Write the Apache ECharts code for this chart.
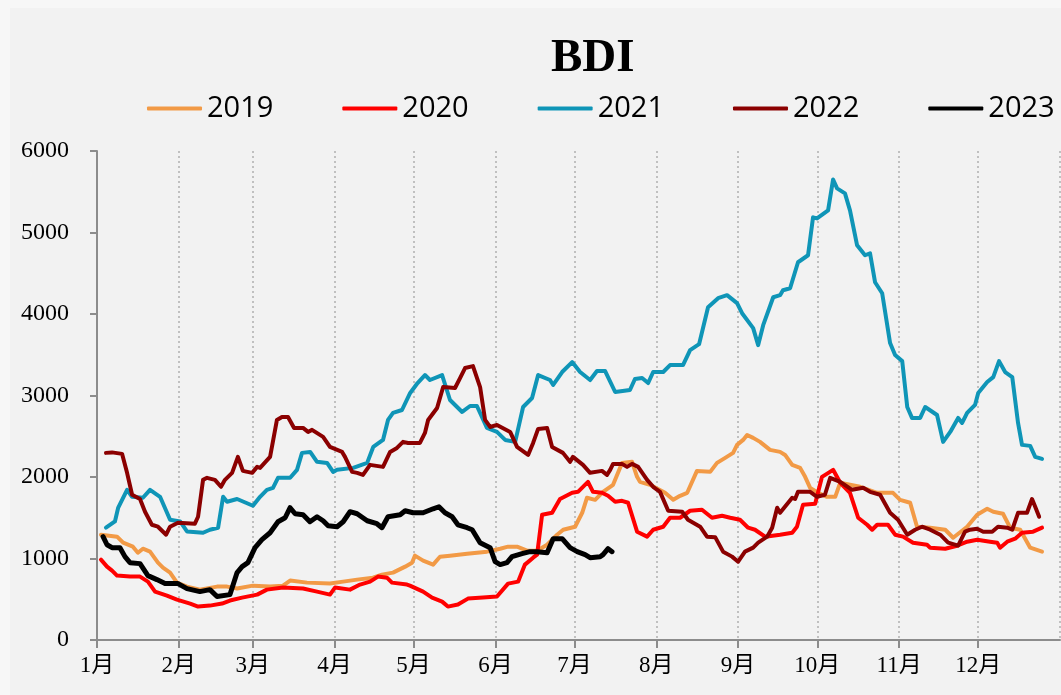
<!DOCTYPE html>
<html>
<head>
<meta charset="utf-8">
<script src="https://cdn.jsdelivr.net/npm/echarts@6/dist/echarts.min.js"></script>
<style>
  body { margin: 0; background: #f7f7f7; }
  #chart { position: absolute; left: 10px; top: 8px; width: 1051px; height: 687px; }
</style>
</head>
<body>
<div id="chart"></div>
<script>
// day of year (0 = 1月1日) and BDI value
var years = ['2019', '2020', '2021', '2022', '2023'];
var colors = ['#F29A46', '#FF0000', '#0F95B7', '#8B0000', '#000000'];
var yTicks = [0, 1000, 2000, 3000, 4000, 5000, 6000];

var days2019 = [1.5,7.6,9.9,13.6,15.5,17.4,20.1,23.1,25,27.7,30.3,34.1,39,45.5,49.3,53.1,59.1,65.6,70.5,73.2,79.6,88.3,93.3,98.6,104.6,108,112.2,116.8,119.4,120.5,123.6,127.4,130,133.8,140.3,147.8,152.8,155.8,159.2,163,166.8,170.6,174.4,176.7,181.2,183.9,185.7,188.8,191.8,195.6,199,202.8,204.7,205.8,209.6,215.3,218.4,221,223.7,227.4,232.4,235,238.1,241.1,242.6,244.9,246.4,248.7,251.3,255.1,258.9,260.8,263.5,266.5,268.4,270.3,273.3,276.7,279.8,281.7,285.4,289.2,295.7,301.7,304.4,308.2,310.8,315.8,321.5,324.5,329.8,333.6,337.4,339.7,343.4,346.1,349.9,353.7,358.2];
var bdi2019 = [1292,1268,1194,1145,1071,1120,1084,949,888,827,704,655,618,655,655,631,667,655,667,729,704,692,716,741,765,802,827,900,949,1035,974,925,1022,1035,1059,1084,1120,1145,1145,1096,1096,1169,1292,1353,1390,1561,1745,1720,1818,1904,2173,2186,2002,1941,1904,1806,1720,1769,1806,2075,2063,2173,2235,2296,2394,2455,2516,2480,2431,2333,2308,2271,2149,2112,2002,1867,1806,1757,1757,1929,1904,1880,1806,1806,1720,1684,1390,1378,1353,1255,1390,1537,1610,1574,1549,1378,1353,1133,1084];

var days2020 = [1.5,3.8,5.7,7.6,12.5,16.3,19.3,22,26.5,30.3,35.3,38.3,42.8,47.4,50.4,55,60.7,64.4,70.5,78.1,83.4,88.3,90.2,95.9,99.7,103.5,106.5,109.9,111.8,117.5,118.6,123.6,127,130.8,133,136.8,140.6,146.3,151.6,155.8,159.6,162.2,165.3,166.8,168.7,172.5,175.5,180.1,182.3,186.1,188,191.4,193.7,196.4,199,201.3,204.7,208.5,210.8,214.6,217.2,221,224.8,229.3,233.1,236.9,240,243.7,246.8,249.4,253.2,258.9,263.5,265.3,267.6,272.2,274.8,279,281.7,285.4,288.5,291.9,293.8,295.7,299.8,302.5,305.5,309.3,314.6,315.8,321.5,326,329.8,333.6,338.5,341.2,342.3,345,348,350.6,354.8,358.2];
var bdi2020 = [986,900,851,790,778,778,716,594,545,496,447,410,422,447,484,520,557,618,643,631,594,557,643,618,680,716,778,765,704,680,667,594,520,471,410,435,508,520,533,692,716,925,1010,1047,1537,1561,1730,1806,1818,1941,1818,1806,1769,1696,1708,1684,1329,1268,1353,1390,1500,1500,1586,1598,1500,1525,1500,1475,1378,1353,1268,1292,1316,1390,1659,1672,2002,2088,1929,1806,1500,1414,1353,1414,1414,1292,1268,1194,1169,1133,1120,1157,1206,1231,1206,1194,1133,1206,1243,1316,1329,1378];

var days2021 = [3.4,6.8,8,11.4,13.3,17.4,20.1,23.9,27.7,31.5,34.1,40.2,42.8,45.9,47.8,49.3,53.1,59.1,61.8,64.4,66.7,68.6,73.2,75.8,77.7,80.8,83.4,87.2,89.5,91,97.1,102.4,104.7,108.4,110.3,112.2,115.6,118.7,121.5,124.3,126.2,130.8,133.8,138.4,141.4,144,147.8,151.6,154.7,158.5,161.5,164.9,167.2,171.7,172.9,176.3,180.1,183.1,186.9,189.5,192.6,196.4,202,203.9,206.6,208.9,210.8,214.6,217.2,222.1,224.8,228.2,231.6,235.4,238.8,242.6,244.5,248.7,250.6,252.5,256.3,258.9,260,262.7,265.7,269.5,271.4,272.9,277.1,279,280.5,283.5,285.4,288.1,291.1,293,294.9,297.6,300.6,302.5,305.2,307.1,308.9,312,313.9,318.4,320.7,323.4,326.4,327.9,329.8,332.8,334,337.4,339.7,341.9,344.2,346.9,349.1,350.6,353.7,355.6,358.2];
var bdi2021 = [1378,1455,1620,1843,1757,1745,1843,1757,1475,1455,1332,1316,1353,1378,1757,1696,1730,1647,1757,1843,1867,1990,1990,2088,2296,2308,2186,2173,2063,2088,2112,2173,2369,2455,2700,2786,2822,3031,3153,3251,3190,3251,2945,2798,2871,2871,2602,2553,2455,2431,2859,2969,3251,3190,3129,3288,3410,3288,3190,3300,3300,3043,3067,3202,3214,3153,3288,3288,3373,3373,3557,3630,4084,4194,4231,4133,4010,3827,3618,3863,4206,4231,4292,4316,4635,4721,5186,5173,5271,5651,5541,5480,5271,4843,4721,4745,4390,4255,3643,3496,3422,2859,2725,2725,2859,2761,2431,2553,2725,2663,2786,2884,3031,3165,3226,3422,3288,3226,2663,2394,2382,2247,2222];

var days2022 = [3.4,5.7,9.5,11.4,13.3,16.3,18.2,20.8,23.1,26.2,27.7,30.7,37.1,38.3,40.2,41.7,44.7,47,48.5,51.2,53.4,55.3,58.8,60.7,61.8,65.6,68.2,70.1,72.4,74.7,78.1,80,81.5,85.7,88.3,92.9,94,96.7,98.6,100.8,103.5,108.4,111.1,113.7,116,117.9,122.4,124.3,125.5,128.9,131.2,135.7,137.6,139.5,142.5,145.2,147.1,149,151.6,156.6,159.2,163.4,165.3,167.2,170.6,172.5,176.6,179.3,180.4,184.2,186.9,191.4,193.3,194.5,195.6,199,200.9,202.8,205.1,208.5,210.8,213.4,216.5,221.8,224,228.6,231.2,234.3,237.3,240.7,243,245.6,248.7,250.6,254,255.9,257.8,258.9,263.5,264.6,265.7,270.3,272.9,275.9,277.9,281.7,286.2,290.4,293,296.8,300.6,303.6,307.1,310.1,312.7,315.8,319.6,322.6,326.4,329,330.9,333.6,335.9,339.3,341.5,345,346.9,349.1,352.5,354.4,355.6,357.1];
var bdi2022 = [2296,2302,2284,2051,1782,1730,1574,1414,1390,1292,1390,1439,1427,1512,1965,1990,1965,1880,1965,2051,2247,2075,2051,2124,2112,2247,2700,2737,2737,2602,2602,2553,2578,2492,2369,2308,2247,2063,2051,2026,2149,2124,2308,2357,2431,2418,2418,2541,2700,2847,3104,3092,3214,3337,3361,3104,2700,2614,2639,2553,2369,2271,2418,2590,2602,2369,2296,2186,2247,2149,2051,2075,2026,2088,2161,2161,2124,2161,2124,1965,1880,1818,1586,1574,1475,1390,1268,1262,1084,1023,961,1084,1133,1194,1268,1378,1623,1561,1745,1730,1818,1818,1757,1782,1990,1941,1843,1867,1818,1782,1561,1475,1292,1353,1390,1353,1292,1194,1157,1329,1353,1365,1329,1329,1390,1378,1353,1561,1561,1730,1635,1512];

var days2023 = [2.3,3.8,5.7,8.7,10.6,12.5,16.3,19.3,22.7,25.8,30.7,34.1,39,42.8,45.5,50.4,53.1,55,57.2,59.9,62.5,65.6,68.6,71.3,73.2,75.1,78.1,80.7,83.4,85.7,87.6,91,93.3,95.9,98.6,102.4,106.1,108,110.3,114.9,116.8,119.8,123.6,127.4,129.6,131.9,134.6,136.8,140.3,142.2,145.2,149,150.9,152.8,155.4,157.3,161.1,164.1,166.8,170.6,172.9,176.3,179.3,182,185,186.9,190.7,191.8,193.7,195.2];
var bdi2023 = [1268,1169,1133,1133,1023,949,937,790,741,692,692,631,594,618,533,557,827,900,949,1133,1231,1316,1451,1500,1623,1549,1537,1451,1512,1463,1402,1390,1451,1574,1549,1463,1427,1378,1512,1537,1586,1561,1561,1610,1635,1561,1512,1414,1378,1353,1194,1133,961,925,949,1022,1059,1084,1084,1071,1243,1243,1133,1084,1047,1010,1022,1047,1120,1084];

var allDays = [days2019, days2020, days2021, days2022, days2023];
var allBdi = [bdi2019, bdi2020, bdi2021, bdi2022, bdi2023];

var base = new Date(2023, 0, 1).getTime();
var DAY = 86400000;
function toPoints(days, vals) {
    return days.map(function (d, i) { return [base + d * DAY, vals[i]]; });
}

var serifFont = "'Liberation Serif', 'Times New Roman', 'Noto Sans CJK SC', serif";
var myChart = echarts.init(document.getElementById('chart'));

var series = years.map(function (y, i) {
    return {
        name: y,
        type: 'line',
        showSymbol: false,
        data: toPoints(allDays[i], allBdi[i]),
        lineStyle: { color: colors[i], width: i === 4 ? 5 : 4, join: 'round', cap: 'round' },
        itemStyle: { color: colors[i] }
    };
});

var option = {
    backgroundColor: '#f2f2f2',
    animation: false,
    title: {
        text: 'BDI',
        left: 536,
        top: 22,
        textStyle: { fontFamily: serifFont, fontSize: 47, fontWeight: 'bold', color: '#000' }
    },
    legend: {
        data: years,
        left: 132,
        top: 81,
        width: 1000,
        icon: 'roundRect',
        itemWidth: 55,
        itemHeight: 4,
        itemGap: 69,
        textStyle: { fontFamily: "'Open Sans', 'Noto Sans', sans-serif", fontSize: 29, color: '#000' }
    },
    grid: { left: 87, right: 1, top: 143, bottom: 55 },
    xAxis: {
        type: 'time',
        min: base,
        max: new Date(2024, 0, 1).getTime(),
        splitNumber: 12,
        minInterval: 28 * DAY,
        maxInterval: 31 * DAY,
        axisLine: { lineStyle: { color: '#8c8c8c', width: 2 } },
        axisTick: { show: true, length: 8, lineStyle: { color: '#8c8c8c', width: 2 } },
        splitLine: { show: true, lineStyle: { color: '#b0b0b0', type: [2, 3], width: 1.5 } },
        axisLabel: {
            fontFamily: serifFont,
            fontSize: 23,
            color: '#000',
            margin: 14,
            showMinLabel: true,
            showMaxLabel: false,
            formatter: function (v) {
                var d = new Date(v);
                if (d.getFullYear() !== 2023) return '';
                return (d.getMonth() + 1) + '月';
            }
        }
    },
    yAxis: {
        type: 'value',
        min: yTicks[0],
        max: yTicks[yTicks.length - 1],
        interval: 1000,
        axisLine: { show: true, lineStyle: { color: '#8c8c8c', width: 2 } },
        axisTick: { show: true, length: 7, lineStyle: { color: '#8c8c8c', width: 2 } },
        splitLine: { show: false },
        axisLabel: {
            fontFamily: serifFont, fontSize: 24, color: '#000', margin: 28,
            formatter: function (v) { return String(v); }
        }
    },
    series: series
};
myChart.setOption(option);
</script>
</body>
</html>
